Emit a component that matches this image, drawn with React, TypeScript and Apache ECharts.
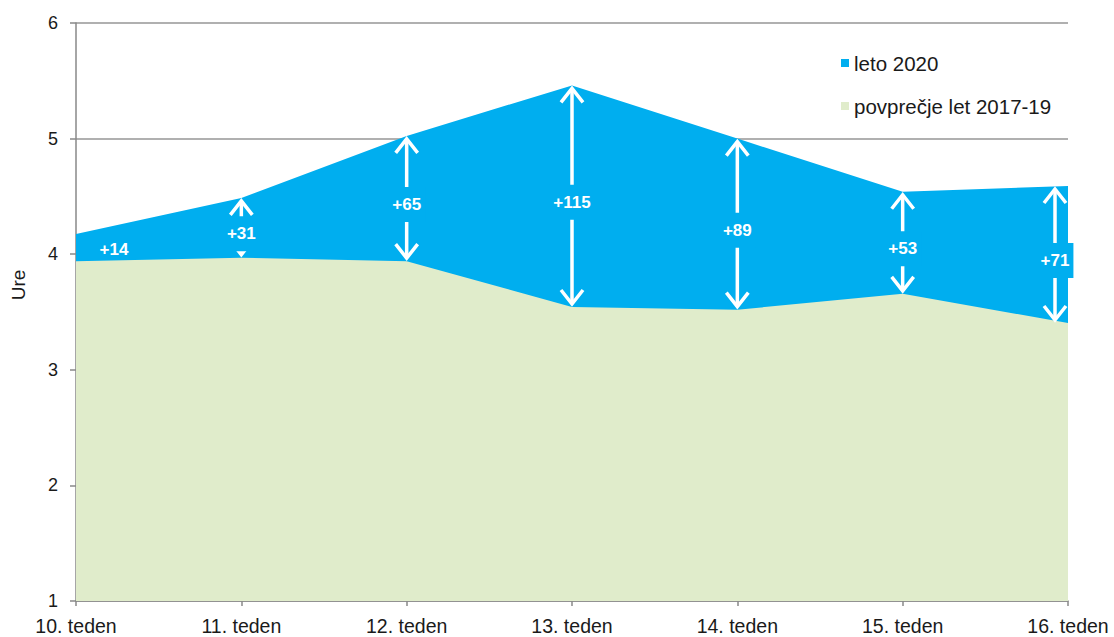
import React, { useEffect, useRef } from "react";
import * as echarts from "echarts";

const categories = ["10. teden", "11. teden", "12. teden", "13. teden", "14. teden", "15. teden", "16. teden"];
const leto2020 = [4.175, 4.487, 5.023, 5.46, 5.0, 4.54, 4.59];
const povprecje = [3.94, 3.97, 3.94, 3.543, 3.52, 3.657, 3.405];
const razlikaMin = [14, 31, 65, 115, 89, 53, 71];
const yTicks = { min: 1, max: 6, interval: 1 };

const BLUE = "#00AEEF";
const GREEN = "#E0ECCB";
const FONT = "'Liberation Sans', Arial, Helvetica, sans-serif";

export default function App() {
  const ref = useRef<HTMLDivElement>(null);
  useEffect(() => {
    if (!ref.current) return;
    const chart = echarts.init(ref.current, null, { renderer: "svg" });
    const arrowData = categories.map((_, i) => [i, leto2020[i], povprecje[i], razlikaMin[i]]);
    const last = categories.length - 1;
    chart.setOption({
      animation: false,
      textStyle: { fontFamily: FONT },
      grid: { left: 76, right: 46, top: 23, bottom: 36 },
      legend: {
        orient: "vertical",
        left: 836,
        top: 46,
        itemWidth: 8,
        itemHeight: 8,
        itemGap: 19,
        icon: "rect",
        textStyle: { fontSize: 20.5, color: "#1a1a1a", fontFamily: FONT, lineHeight: 24 },
        data: ["leto 2020", "povprečje let 2017-19"],
      },
      graphic: [
        {
          type: "text",
          x: 18,
          y: 285,
          rotation: Math.PI / 2,
          style: { text: "Ure", fontSize: 19, fill: "#1a1a1a", fontFamily: FONT, align: "center", verticalAlign: "middle" },
        },
      ],
      xAxis: {
        type: "category",
        data: categories,
        boundaryGap: false,
        axisLine: { lineStyle: { color: "#888", width: 1.5 } },
        axisTick: { show: true, length: 5, lineStyle: { color: "#888", width: 1.5 } },
        axisLabel: { fontSize: 19.5, color: "#1a1a1a", margin: 15, fontFamily: FONT },
        splitLine: { show: false },
      },
      yAxis: {
        type: "value",
        min: yTicks.min,
        max: yTicks.max,
        interval: yTicks.interval,
        axisLine: { show: true, lineStyle: { color: "#888", width: 1.5 } },
        axisTick: { show: true, length: 6, lineStyle: { color: "#888", width: 1.5 } },
        axisLabel: { fontSize: 18, color: "#1a1a1a", margin: 18, fontFamily: FONT },
        splitLine: { show: true, lineStyle: { color: "#969696", width: 1.5 } },
      },
      series: [
        {
          name: "leto 2020",
          type: "line",
          data: leto2020,
          showSymbol: false,
          symbol: "none",
          lineStyle: { width: 0 },
          itemStyle: { color: BLUE },
          areaStyle: { color: BLUE, opacity: 1 },
          z: 2,
        },
        {
          name: "povprečje let 2017-19",
          type: "line",
          data: povprecje,
          showSymbol: false,
          symbol: "none",
          lineStyle: { width: 0 },
          itemStyle: { color: GREEN },
          areaStyle: { color: GREEN, opacity: 1 },
          z: 3,
        },
        {
          type: "custom",
          name: "razlika",
          data: arrowData,
          encode: { x: 0, y: [1, 2] },
          z: 10,
          clip: false,
          renderItem: (params: any, api: any) => {
            const i = api.value(0);
            const top = api.coord([i, api.value(1)]);
            const bot = api.coord([i, api.value(2)]);
            const x = top[0] + (i === last ? -13 : 0);
            const y0 = top[1];
            const y1 = bot[1];
            const mid = (y0 + y1) / 2 + 6;
            const label = "+" + api.value(3);
            const white = { stroke: "#fff", lineWidth: 3.5, fill: null };
            const textStyle = {
              text: label,
              fill: "#fff",
              fontSize: 17,
              fontWeight: "bold",
              fontFamily: FONT,
              align: "center",
              verticalAlign: "middle",
            };
            if (i === 0) {
              return { type: "text", x: x + 38, y: mid - 4, style: textStyle };
            }
            return {
              type: "group",
              children: [
                { type: "line", shape: { x1: x, y1: y0 + 3, x2: x, y2: y1 - 3 }, style: white },
                { type: "polyline", shape: { points: [[x - 11, y0 + 17], [x, y0 + 3], [x + 11, y0 + 17]] }, style: white },
                { type: "polyline", shape: { points: [[x - 11, y1 - 17], [x, y1 - 3], [x + 11, y1 - 17]] }, style: white },
                {
                  type: "text",
                  x: x,
                  y: mid,
                  style: { ...textStyle, backgroundColor: BLUE, padding: [9, 4] },
                },
              ],
            };
          },
        },
      ],
    });
    return () => chart.dispose();
  }, []);
  return <div ref={ref} style={{ width: 1114, height: 637, position: "absolute", left: 0, top: 0 }} />;
}
